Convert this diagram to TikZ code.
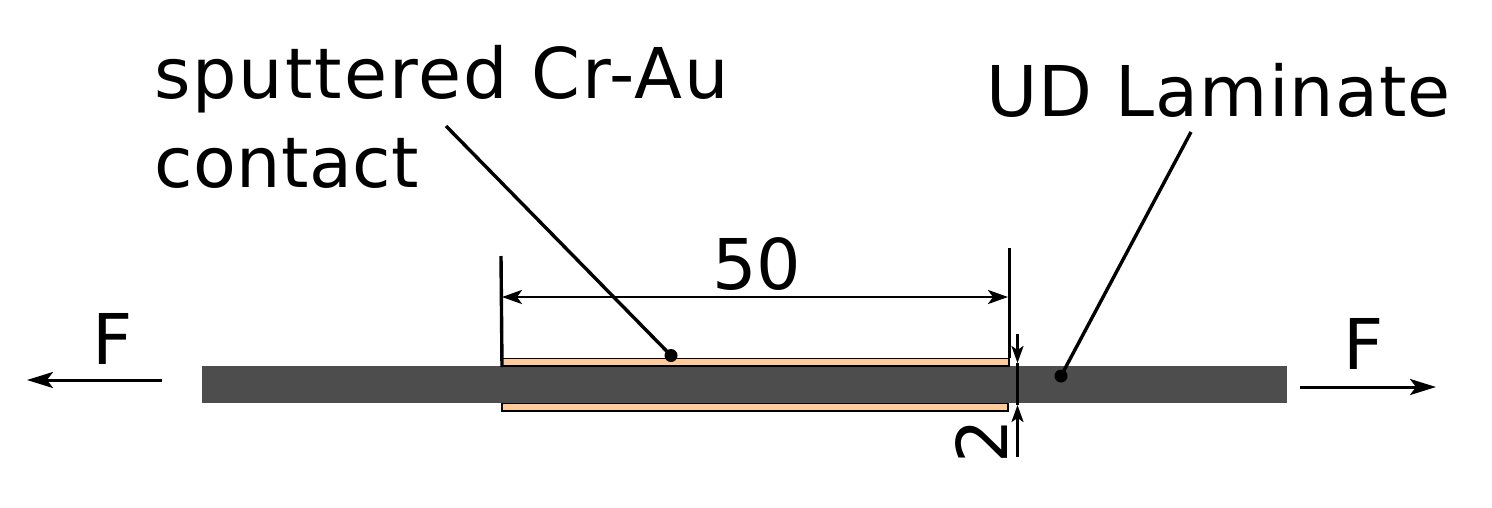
\documentclass[tikz,border=0pt]{standalone}
\usepackage{fontspec}
\setmainfont{DejaVu Sans}
\newfontfamily\sputfont[LetterSpace=2.8]{DejaVu Sans}
\newfontfamily\contfont[LetterSpace=0.6]{DejaVu Sans}
\newfontfamily\udfont[LetterSpace=1.6]{DejaVu Sans}
\usepackage{xcolor}
\usetikzlibrary{positioning,arrows.meta}
\definecolor{laminate}{HTML}{4D4D4D}
\definecolor{contactcol}{HTML}{FFCC99}
\tikzset{
  label text/.style={inner sep=0, anchor=base west, font=#1\fontsize{70}{70}\selectfont},
  big text/.style={inner sep=0, anchor=base, font=\fontsize{70}{70}\selectfont},
  dim/.style={line width=2.8pt, {Stealth[length=20pt,width=14pt,inset=5pt]}-{Stealth[length=20pt,width=14pt,inset=5pt]}},
  force/.style={line width=3pt, -{Stealth[length=26pt,width=16pt,inset=6pt]}},
  lead/.style={line width=3.4pt},
  dot/.style={circle, fill, inner sep=0, minimum size=13pt}
}
\begin{document}
\begin{tikzpicture}[x=1pt, y=-1pt]
  \useasboundingbox (0, 0) rectangle (1492, 507);

  % Specimen
  \fill[laminate] (202, 366) rectangle (1287, 403);
  \draw[fill=contactcol, line width=1.2pt] (502, 358.5) rectangle (1009, 366);
  \draw[fill=contactcol, line width=1.2pt] (502, 403.5) rectangle (1008, 411);

  % Labels
  \node[label text=\sputfont] (contact1) at (154, 98) {sputtered Cr-Au};
  \node[label text=\contfont] (contact2) at (154, 187) {contact};
  \node[label text=\udfont] (ud) at (986, 116) {UD Laminate};
  \node[big text] (len) at (757, 289) {50};
  \node[big text] (fl) at (113, 364) {F};
  \node[big text] (fr) at (1364, 369) {F};
  \begin{scope}
    \clip (930, 420) rectangle (1012, 458);
    \node[big text, rotate=90] (thick) at (1007, 441) {2};
  \end{scope}

  % Leaders
  \node[dot] (dota) at (671, 355.5) {};
  \node[dot] (dotb) at (1061, 376) {};
  \coordinate (leada) at (446, 126);
  \coordinate (leadb) at (1191, 132);
  \draw[lead] (leada) -- (dota.center);
  \draw[lead] (leadb) -- (dotb.center);

  % Dimensions
  \coordinate (la) at (501, 256);
  \coordinate (lb) at (502, 367);
  \coordinate (ra) at (1009.5, 248);
  \coordinate (rb) at (1009.5, 358);
  \draw[lead] (la) -- (lb);
  \draw[lead] (ra) -- (rb);
  \coordinate (da) at (502, 297);
  \coordinate (db) at (1008, 297);
  \draw[dim] (da) -- (db);

  \coordinate (ta) at (1017.5, 334);
  \coordinate (tb) at (1017.5, 363);
  \coordinate (tc) at (1017.5, 405);
  \coordinate (td) at (1017.5, 457);
  \draw[line width=2.6pt, -{Stealth[length=17pt,width=12pt,inset=4pt]}] (ta) -- (tb);
  \draw[line width=2.6pt, -{Stealth[length=17pt,width=12pt,inset=4pt]}] (td) -- (tc);
  \draw[line width=2.6pt] (tb) -- (tc);

  % Forces
  \coordinate (fla) at (162, 380);
  \coordinate (flb) at (27, 380);
  \coordinate (fra) at (1300, 387);
  \coordinate (frb) at (1436, 387);
  \draw[force] (fla) -- (flb);
  \draw[force] (fra) -- (frb);

\end{tikzpicture}
\end{document}
